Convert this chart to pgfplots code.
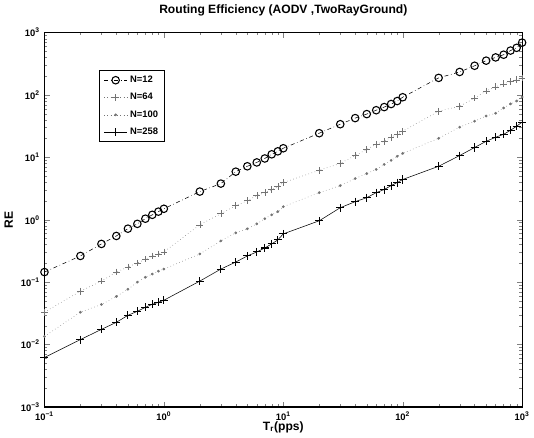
\documentclass[border=0pt]{standalone}
\usepackage{pgfplots}
\pgfplotsset{compat=1.18}
\usepackage{fontspec}
\setmainfont{Liberation Sans}
\begin{document}
\begin{tikzpicture}
\begin{axis}[
  scale only axis,
  width=356pt, height=279pt,
  xmode=log, ymode=log,
  xmin=0.1, xmax=1000, ymin=0.001, ymax=1000,
  xtick={0.1,1,10,100,1000},
  xticklabels={10\textsuperscript{−1},10\textsuperscript{0},10\textsuperscript{1},10\textsuperscript{2},10\textsuperscript{3}},
  ytick={0.001,0.01,0.1,1,10,100,1000},
  yticklabels={10\textsuperscript{−3},10\textsuperscript{−2},10\textsuperscript{−1},10\textsuperscript{0},10\textsuperscript{1},10\textsuperscript{2},10\textsuperscript{3}},
  ticklabel style={font=\scriptsize\bfseries},
  axis line style={line width=0.9pt},
  major tick length=4pt, minor tick length=2pt,
  title={Routing Efficiency (AODV ,TwoRayGround)},
  title style={font=\small\bfseries, at={(0.5,1)}, anchor=south, yshift=3pt},
  xlabel={T\textsubscript{r}(pps)},
  xlabel style={font=\small\bfseries, yshift=6pt},
  ylabel={RE},
  ylabel style={font=\small\bfseries, at={(rel axis cs:-0.075,0.5)}, anchor=center},
  legend style={at={(0.115,0.9)}, anchor=north west, font=\scriptsize\bfseries, draw=black, line width=0.8pt, row sep=2.5pt},
  legend cell align=left,
]
\path (rel axis cs:-0.1095,-0.113) rectangle (rel axis cs:1.0147,1.0806);
\addplot[black, thin, dashdotted, mark=o, mark size=2.8pt, mark options={solid, thick}] coordinates {
(0.1,0.145) (0.2,0.263) (0.3,0.41) (0.4,0.55) (0.5,0.72) (0.6,0.86) (0.7,1.04) (0.8,1.2) (0.9,1.35) (1,1.5)
(2,2.83) (3,3.8) (4,5.9) (5,7.2) (6,8.3) (7,9.6) (8,11.2) (9,12.5) (10,14.0)
(20,24.4) (30,34) (40,42.6) (50,49.4) (60,57) (70,64) (80,71.6) (90,80) (100,92)
(200,188) (300,234) (400,294) (500,355) (600,400) (700,442) (800,515) (900,570) (1000,690)
};
\addlegendentry{N=12}
\addplot[black!55, thin, dotted, mark=+, mark size=2.5pt, mark options={solid}] coordinates {
(0.1,0.033) (0.2,0.0716) (0.3,0.104) (0.4,0.145) (0.5,0.175) (0.6,0.202) (0.7,0.234) (0.8,0.263) (0.9,0.283) (1,0.305)
(2,0.83) (3,1.25) (4,1.68) (5,2.02) (6,2.44) (7,2.72) (8,3.05) (9,3.4) (10,3.95)
(20,6.2) (30,8.0) (40,10.7) (50,13.4) (60,16.2) (70,18.2) (80,21) (90,23.4) (100,26.3)
(200,55) (300,66) (400,89) (500,116) (600,135) (700,151) (800,163) (900,175) (1000,188)
};
\addlegendentry{N=64}
\addplot[black!55, thin, dotted, mark=*, mark size=0.8pt, mark options={solid}] coordinates {
(0.1,0.0135) (0.2,0.033) (0.3,0.044) (0.4,0.059) (0.5,0.077) (0.6,0.1) (0.7,0.12) (0.8,0.135) (0.9,0.15) (1,0.162)
(2,0.283) (3,0.458) (4,0.617) (5,0.716) (6,0.86) (7,1.04) (8,1.2) (9,1.35) (10,1.62)
(20,2.72) (30,3.53) (40,4.58) (50,5.5) (60,6.4) (70,7.7) (80,8.95) (90,10.4) (100,11.6)
(200,20.2) (300,30.5) (400,38) (500,46) (600,51) (700,62) (800,72) (900,80) (1000,93)
};
\addlegendentry{N=100}
\addplot[black, thin, mark=+, mark size=3pt, mark options={solid, thick}] coordinates {
(0.1,0.0062) (0.2,0.012) (0.3,0.0175) (0.4,0.0227) (0.5,0.0294) (0.6,0.0341) (0.7,0.0395) (0.8,0.0442) (0.9,0.0476) (1,0.0513)
(2,0.104) (3,0.162) (4,0.21) (5,0.263) (6,0.305) (7,0.353) (8,0.41) (9,0.475) (10,0.594)
(20,0.963) (30,1.56) (40,1.95) (50,2.26) (60,2.72) (70,3.05) (80,3.53) (90,3.95) (100,4.42)
(200,7.2) (300,10.7) (400,14.4) (500,18.1) (600,21) (700,23.4) (800,27.2) (900,31.6) (1000,36.7)
};
\addlegendentry{N=258}
\end{axis}
\end{tikzpicture}
\end{document}
